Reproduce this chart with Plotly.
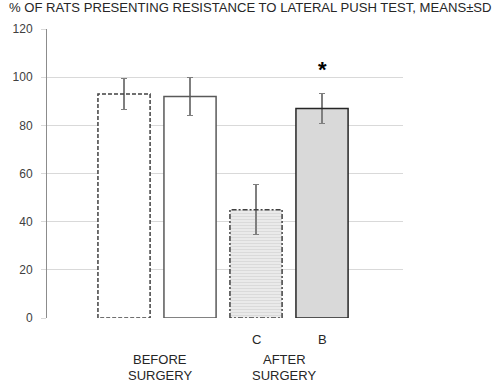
import plotly.graph_objects as go

categories = ["Before 1", "Before 2", "C", "B"]
means = [93, 92, 45, 87]
sds = [6.5, 8, 10.3, 6.3]
tick_vals = [0, 20, 40, 60, 80, 100, 120]
group_labels = [["BEFORE", "SURGERY"], ["AFTER", "SURGERY"]]
bar_labels = ["", "", "C", "B"]
title_text = "% OF RATS PRESENTING RESISTANCE TO LATERAL PUSH TEST, MEANS±SD"

W = 0.79
xs = list(range(len(categories)))

fills = ["white", "white", "#ebebeb", "#d9d9d9"]
border_colors = ["#404040", "#595959", "#404040", "#262626"]
border_dash = ["4px,2px", "solid", "5px,2px,2px,2px", "solid"]

fig = go.Figure()
for i in xs:
    marker = dict(color=fills[i], line=dict(width=0))
    if i == 2:
        marker["pattern"] = dict(shape="-", fgcolor="#c8c8c8", bgcolor="#ececec", size=3, solidity=0.4)
    fig.add_trace(go.Bar(
        x=[xs[i]], y=[means[i]], width=W, marker=marker,
        error_y=dict(type="data", array=[sds[i]], color="#7f7f7f", thickness=1.3, width=3),
        showlegend=False, hoverinfo="skip"))
    fig.add_trace(go.Scatter(
        x=[xs[i] - W / 2, xs[i] - W / 2, xs[i] + W / 2, xs[i] + W / 2, xs[i] - W / 2],
        y=[0, means[i], means[i], 0, 0], mode="lines",
        line=dict(color=border_colors[i], width=1.5, dash=border_dash[i]),
        showlegend=False, hoverinfo="skip"))

label_font = dict(size=13, color="#262626")
annotations = []
for i in xs:
    if bar_labels[i]:
        annotations.append(dict(x=xs[i], y=-0.073, xref="x", yref="paper", text=bar_labels[i],
                                showarrow=False, font=label_font, yanchor="middle"))
group_centers = [(xs[0] + xs[1]) / 2 + 0.05, (xs[2] + xs[3]) / 2 - 0.07]
line_y = [-0.145, -0.199]
for gx, lines in zip(group_centers, group_labels):
    for ly, txt in zip(line_y, lines):
        annotations.append(dict(x=gx, y=ly, xref="x", yref="paper", text=txt,
                                showarrow=False, font=label_font, yanchor="middle"))
annotations.append(dict(x=xs[3], y=means[3] + sds[3] + 10, xref="x", yref="y", text="<b>*</b>",
                        showarrow=False, font=dict(size=22, color="#000000"), yanchor="middle"))
plot_w = 500 - 47 - 97
annotations.append(dict(x=(250 - 47) / plot_w, y=1, xref="paper", yref="paper", xanchor="center",
                        yanchor="bottom", yshift=12, text=title_text, showarrow=False,
                        font=dict(size=13.1, color="#262626")))

fig.update_layout(
    width=500, height=382,
    margin=dict(l=47, r=97, t=29, b=64),
    paper_bgcolor="white", plot_bgcolor="white",
    font=dict(family="Liberation Sans, Arial, sans-serif", size=12, color="#404040"),
    annotations=annotations,
    bargap=0,
    xaxis=dict(range=[-1.167, 4.227], showticklabels=False, showgrid=False, zeroline=False,
               showline=False, fixedrange=True),
    yaxis=dict(range=[0, 120], tickvals=tick_vals, showgrid=True, gridcolor="#d9d9d9", gridwidth=1,
               zeroline=False, showline=True, linecolor="#8c8c8c", linewidth=1,
               ticks="outside", ticklen=5, tickcolor="#d9d9d9",
               tickfont=dict(size=12, color="#404040"), ticklabelstandoff=6),
)

fig.write_html("out.html", config={"displayModeBar": False},
               post_script="document.body.style.margin='0';document.body.style.overflow='hidden';")
